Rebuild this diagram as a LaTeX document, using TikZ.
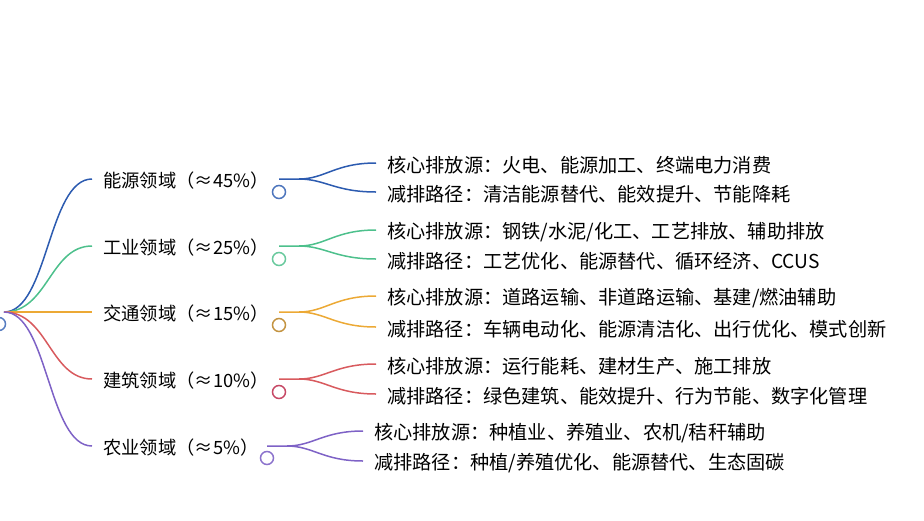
\documentclass[tikz,border=0pt]{standalone}
\usepackage{fontspec}
\setmainfont{Noto Sans CJK SC}

\definecolor{nengyuan}{HTML}{2C5BB0}
\definecolor{gongye}{HTML}{4DC08C}
\definecolor{jiaotong}{HTML}{ECA935}
\definecolor{jianzhu}{HTML}{D85A5E}
\definecolor{nongye}{HTML}{7E62C6}

\begin{document}
\begin{tikzpicture}[x=1pt,y=-1pt]

      \useasboundingbox (0,0) rectangle (924,520);

      % root
      \node[circle,draw=nengyuan!80,line width=1.5pt,minimum size=13pt,inner sep=0pt] (r) at (-1,324) {};
      \coordinate (o) at (4,312);

      % first level
      \begin{scope}[every node/.style={anchor=west,inner sep=0pt,font=\fontsize{18.3}{20}\selectfont}]
        \node (1) at (103,181) {能源领域（≈45\%）};
        \node (2) at (103,248) {工业领域（≈25\%）};
        \node (3) at (103,314) {交通领域（≈15\%）};
        \node (4) at (103,381) {建筑领域（≈10\%）};
        \node (5) at (103,448) {农业领域（≈5\%）};
      \end{scope}

      \begin{scope}[line width=1.5pt]
        \draw[nengyuan] (o) .. controls (48,312) and (48,179) .. ([xshift=-11pt,yshift=2pt]1.west);
        \draw[gongye] (o) .. controls (48,312) and (50,246) .. ([xshift=-11pt,yshift=2pt]2.west);
        \draw[jiaotong] (o) -- ([xshift=-11pt,yshift=2pt]3.west);
        \draw[jianzhu] (o) .. controls (48,312) and (50,379) .. ([xshift=-11pt,yshift=2pt]4.west);
        \draw[nongye] (o) .. controls (48,312) and (48,446) .. ([xshift=-11pt,yshift=2pt]5.west);
      \end{scope}

      % small circles
      \begin{scope}[every node/.style={circle,line width=1.5pt,minimum size=13pt,inner sep=0pt}]
        \node[draw=nengyuan!85] (c1) at (279,192) {};
        \node[draw=gongye!85] (c2) at (279,259) {};
        \node[draw=jiaotong!80!black!90] (c3) at (279,325) {};
        \node[draw=jianzhu!80!violet] (c4) at (279,392) {};
        \node[draw=nongye!90] (c5) at (267,458) {};
      \end{scope}

      % second level
      \begin{scope}[every node/.style={anchor=west,inner sep=0pt,font=\fontsize{19.2}{21}\selectfont}]
        \node (1a) at (387,165) {核心排放源：火电、能源加工、终端电力消费};
        \node (1b) at (387,194) {减排路径：清洁能源替代、能效提升、节能降耗};
        \node (2a) at (387,232) {核心排放源：钢铁/水泥/化工、工艺排放、辅助排放};
        \node (2b) at (387,261) {减排路径：工艺优化、能源替代、循环经济、CCUS};
        \node (3a) at (387,298) {核心排放源：道路运输、非道路运输、基建/燃油辅助};
        \node (3b) at (387,329) {减排路径：车辆电动化、能源清洁化、出行优化、模式创新};
        \node (4a) at (387,366) {核心排放源：运行能耗、建材生产、施工排放};
        \node (4b) at (387,396) {减排路径：绿色建筑、能效提升、行为节能、数字化管理};
        \node (5a) at (374,433) {核心排放源：种植业、养殖业、农机/秸秆辅助};
        \node (5b) at (374,463) {减排路径：种植/养殖优化、能源替代、生态固碳};
      \end{scope}

      \begin{scope}[line width=1.5pt]
        \draw[nengyuan] ([yshift=13pt]c1.center) -- ++(20,0) coordinate (s1)
          .. controls (325,179) and (335,163) .. ([xshift=-11pt,yshift=2pt]1a.west);
        \draw[nengyuan] (s1) .. controls (325,179) and (335,192) .. ([xshift=-11pt,yshift=2pt]1b.west);
        \draw[gongye] ([yshift=13pt]c2.center) -- ++(20,0) coordinate (s2)
          .. controls (325,246) and (335,230) .. ([xshift=-11pt,yshift=2pt]2a.west);
        \draw[gongye] (s2) .. controls (325,246) and (335,259) .. ([xshift=-11pt,yshift=2pt]2b.west);
        \draw[jiaotong] ([yshift=13pt]c3.center) -- ++(20,0) coordinate (s3)
          .. controls (325,312) and (335,296) .. ([xshift=-11pt,yshift=2pt]3a.west);
        \draw[jiaotong] (s3) .. controls (325,312) and (335,327) .. ([xshift=-11pt,yshift=2pt]3b.west);
        \draw[jianzhu] ([yshift=13pt]c4.center) -- ++(20,0) coordinate (s4)
          .. controls (325,379) and (335,364) .. ([xshift=-11pt,yshift=2pt]4a.west);
        \draw[jianzhu] (s4) .. controls (325,379) and (335,394) .. ([xshift=-11pt,yshift=2pt]4b.west);
        \draw[nongye] ([yshift=12pt]c5.center) -- ++(20,0) coordinate (s5)
          .. controls (313,446) and (323,431) .. ([xshift=-11pt,yshift=2pt]5a.west);
        \draw[nongye] (s5) .. controls (313,446) and (323,461) .. ([xshift=-11pt,yshift=2pt]5b.west);
      \end{scope}

    \end{tikzpicture}
\end{document}
